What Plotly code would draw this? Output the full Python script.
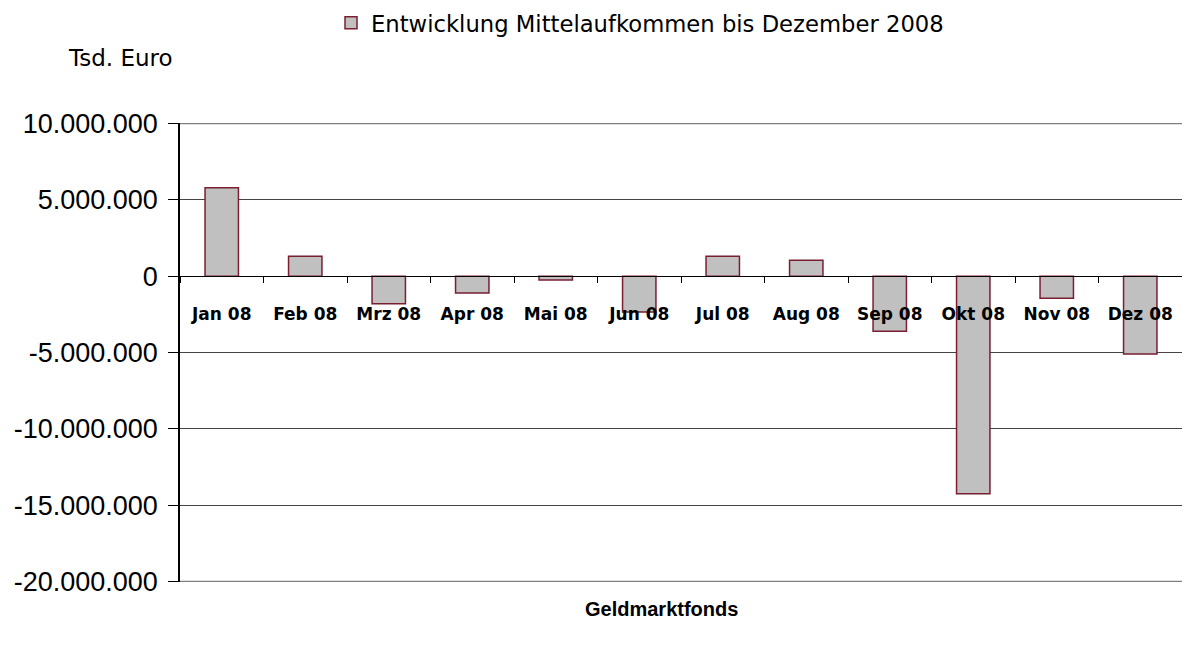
import plotly.graph_objects as go

months = ["Jan 08", "Feb 08", "Mrz 08", "Apr 08", "Mai 08", "Jun 08",
          "Jul 08", "Aug 08", "Sep 08", "Okt 08", "Nov 08", "Dez 08"]
values = [5800000, 1300000, -1800000, -1100000, -250000, -2350000,
          1300000, 1050000, -3600000, -14250000, -1450000, -5100000]
ytickvals = [-20000000, -15000000, -10000000, -5000000, 0, 5000000, 10000000]
yticktext = ["-20.000.000", "-15.000.000", "-10.000.000", "-5.000.000", "0",
             "5.000.000", "10.000.000"]
series_name = "Entwicklung Mittelaufkommen bis Dezember 2008"

W, H = 1182, 648
ml, mr, mt, mb = 180, 0, 123, 66
ymin, ymax = -20000000, 10000000
pad = 40000
pw, ph = W - ml - mr, H - mt - mb

fig = go.Figure()
fig.add_trace(go.Bar(
    x=months, y=values, name=series_name,
    marker=dict(color="#C0C0C0", line=dict(color="#7A1E32", width=1.5)),
    showlegend=True,
))

zero_pos = (0 - (ymin - pad)) / ((ymax + pad) - (ymin - pad))

# outer gridlines at the top and bottom of the value range
for yv in (ymin, ymax):
    fig.add_shape(type="line", xref="paper", yref="y", x0=0, x1=1, y0=yv, y1=yv,
                  line=dict(color="#808080", width=1.5), layer="below")

fig.update_layout(
    width=W, height=H,
    margin=dict(l=ml, r=mr, t=mt, b=mb, autoexpand=False),
    plot_bgcolor="white", paper_bgcolor="white",
    bargap=0.6,
    font=dict(family="Liberation Sans", color="black"),
    showlegend=True,
    legend=dict(orientation="h", xref="container", yref="container",
                x=(377 - 46) / W, xanchor="left", y=1 - 23 / H, yanchor="middle",
                font=dict(family="DejaVu Sans", size=22.7, color="black"),
                bgcolor="rgba(0,0,0,0)", itemclick=False),
    xaxis=dict(
        type="category", anchor="free", position=zero_pos, automargin=False,
        showline=True, linecolor="black", linewidth=1,
        ticks="outside", ticklen=6, tickcolor="black", tickson="boundaries",
        ticklabelstandoff=22,
        tickfont=dict(family="DejaVu Sans", size=17, color="black", weight="bold"),
        showgrid=False, range=[-0.5, 11.5], fixedrange=True,
    ),
    yaxis=dict(
        range=[ymin - pad, ymax + pad], domain=[0, 1], automargin=False,
        tickvals=ytickvals, ticktext=yticktext,
        showline=True, linecolor="black", linewidth=1.5,
        ticks="outside", ticklen=10, tickcolor="black", ticklabelstandoff=5,
        tickfont=dict(family="Liberation Sans", size=27, color="black"),
        showgrid=True, gridcolor="#444444", gridwidth=1,
        zeroline=False, fixedrange=True,
    ),
    annotations=[
        dict(text="Tsd. Euro", xref="paper", yref="paper",
             x=-(ml - 66) / pw, y=1 + (mt - 58) / ph,
             xanchor="left", yanchor="middle", showarrow=False,
             font=dict(family="DejaVu Sans", size=23, color="black")),
        dict(text="<b>Geldmarktfonds</b>", xref="paper", yref="paper",
             x=(661 - ml) / pw, y=-(609 - (H - mb)) / ph,
             xanchor="center", yanchor="middle", showarrow=False,
             font=dict(family="Liberation Sans", size=20, color="black")),
    ],
)

fig.write_html(
    "out.html",
    config={"displayModeBar": False},
    post_script="document.body.style.margin='0';document.body.style.overflow='hidden';",
)
